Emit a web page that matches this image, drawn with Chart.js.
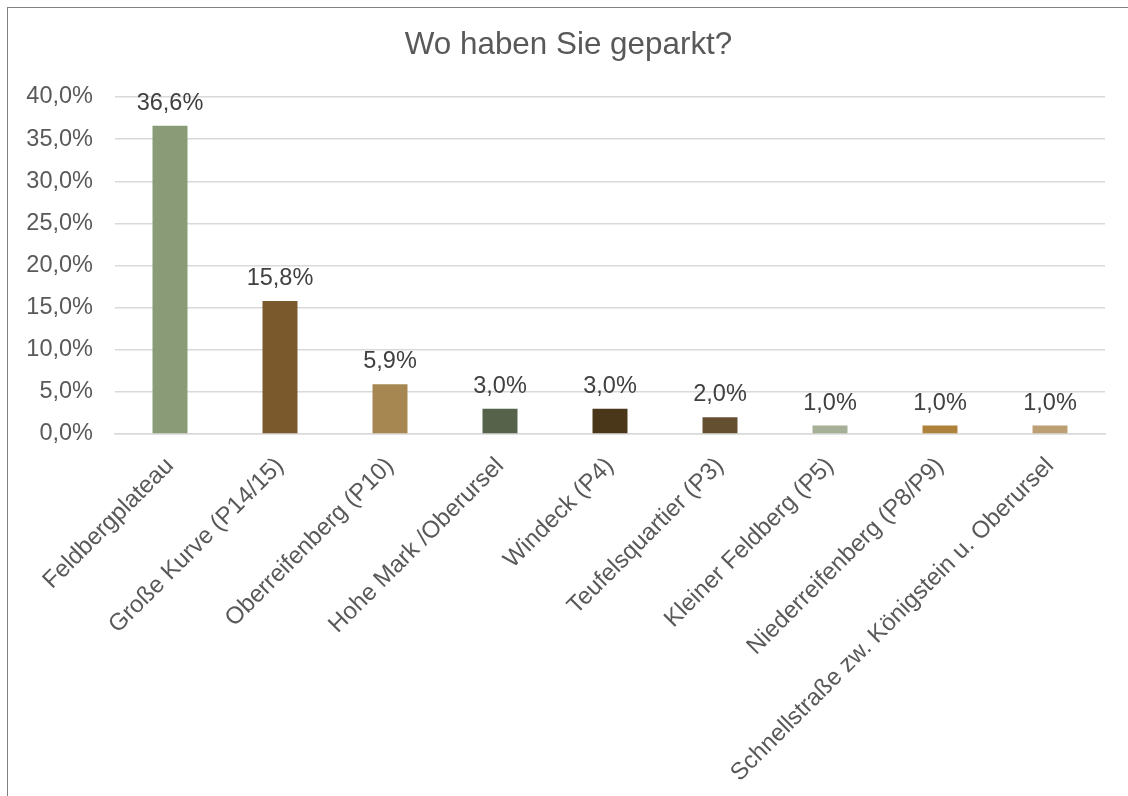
<!DOCTYPE html>
<html>
<head>
<meta charset="utf-8">
<script src="https://cdn.jsdelivr.net/npm/chart.js@4.4.1/dist/chart.umd.min.js"></script>
<style>
  html, body { margin: 0; padding: 0; background: #fff; overflow: hidden; }
  #frame { position: absolute; left: 7px; top: 7px; width: 1200px; height: 900px; border: 1.5px solid #808080; box-sizing: border-box; }
  #wrap { position: absolute; left: 0; top: 0; width: 1128px; height: 796px; }
</style>
</head>
<body>
<div id="frame"></div>
<div id="wrap"><canvas id="c" width="1128" height="796"></canvas></div>
<script>
const categories = [
  "Feldbergplateau",
  "Große Kurve (P14/15)",
  "Oberreifenberg (P10)",
  "Hohe Mark /Oberursel",
  "Windeck (P4)",
  "Teufelsquartier (P3)",
  "Kleiner Feldberg (P5)",
  "Niederreifenberg (P8/P9)",
  "Schnellstraße zw. Königstein u. Oberursel"
];
const values = [36.6, 15.8, 5.9, 3.0, 3.0, 2.0, 1.0, 1.0, 1.0];
const barColors = ["#8A9B78", "#7A5A2C", "#A68752", "#566249", "#4A3719", "#654F31", "#A5B096", "#AE823A", "#BCA074"];
const yTicks = [0, 5, 10, 15, 20, 25, 30, 35, 40];
const titleText = "Wo haben Sie geparkt?";

const fmt = v => v.toFixed(1).replace('.', ',') + '%';
const FONT = "'Liberation Sans', Arial, sans-serif";

const valueLabels = {
  id: 'valueLabels',
  afterDatasetsDraw(chart) {
    const ctx = chart.ctx;
    const meta = chart.getDatasetMeta(0);
    ctx.save();
    ctx.font = "23.5px " + FONT;
    ctx.fillStyle = "#404040";
    ctx.textAlign = "center";
    ctx.textBaseline = "alphabetic";
    meta.data.forEach((bar, i) => {
      ctx.fillText(fmt(values[i]), bar.x, bar.y - 16);
    });
    ctx.restore();
  }
};

const chartTitle = {
  id: 'chartTitle',
  afterDraw(chart) {
    const ctx = chart.ctx;
    ctx.save();
    ctx.font = "31.4px " + FONT;
    ctx.fillStyle = "#595959";
    ctx.textAlign = "center";
    ctx.textBaseline = "alphabetic";
    ctx.fillText(titleText, 568.5, 54);
    ctx.restore();
  }
};

new Chart(document.getElementById('c'), {
  type: 'bar',
  data: {
    labels: categories,
    datasets: [{
      data: values,
      backgroundColor: barColors,
      borderWidth: 0,
      categoryPercentage: 1.0,
      barPercentage: 0.318
    }]
  },
  options: {
    responsive: false,
    animation: false,
    layout: { padding: { left: 0, right: 23, top: 97, bottom: 0 } },
    plugins: {
      legend: { display: false },
      tooltip: { enabled: false },
      title: { display: false }
    },
    scales: {
      x: {
        grid: { display: false },
        border: { display: true, color: "#d9d9d9", width: 1.5 },
        ticks: {
          color: "#595959",
          font: { family: FONT, size: 24 },
          maxRotation: 45,
          minRotation: 45,
          autoSkip: false,
          padding: 10
        },
        afterFit(scale) { scale.height = 796 - 434; }
      },
      y: {
        min: 0,
        max: 40,
        afterBuildTicks(scale) { scale.ticks = yTicks.map(v => ({ value: v })); },
        grid: { color: "#d9d9d9", lineWidth: 1.5, drawTicks: false },
        border: { display: false },
        ticks: {
          color: "#595959",
          font: { family: FONT, size: 23.5 },
          padding: 22,
          callback: v => fmt(v)
        },
        afterFit(scale) { scale.width = 115; }
      }
    }
  },
  plugins: [valueLabels, chartTitle]
});
</script>
</body>
</html>
